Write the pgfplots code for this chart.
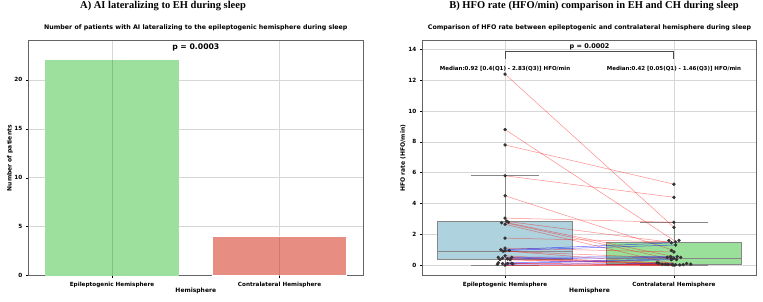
\documentclass[border=0pt]{standalone}
\usepackage{fontspec}
\setmainfont{DejaVu Sans}
\newfontfamily\timesfont{Liberation Serif}
\usepackage{pgfplots}
\pgfplotsset{compat=1.18}
\usepgfplotslibrary{statistics}

\definecolor{bargreen}{RGB}{157,224,157}
\definecolor{barred}{RGB}{232,141,130}
\definecolor{boxblue}{RGB}{174,210,222}
\definecolor{boxgreen}{RGB}{154,224,154}
\definecolor{gridgray}{RGB}{215,215,215}
\definecolor{framegray}{RGB}{100,100,100}
\definecolor{boxedge}{RGB}{135,135,135}
\definecolor{ptgray}{RGB}{50,50,50}

\pgfplotsset{
  mystyle/.style={
    scale only axis, anchor=south west, height=235pt,
    grid=major, major grid style={gridgray, line width=0.6pt},
    axis line style={framegray, line width=0.8pt},
    tick align=outside, major tick length=2.5pt,
    tick style={black, line width=0.5pt},
    xtick pos=bottom, ytick pos=left,
    ticklabel style={font=\bfseries\fontsize{5.7}{6.5}\selectfont},
    /pgf/number format/assume math mode=true,
    label style={font=\bfseries\fontsize{6}{7}\selectfont},
    title style={font=\bfseries\fontsize{6.3}{7.3}\selectfont, at={(axis description cs:0.5,1.028)}, anchor=center},
    xlabel style={at={(axis description cs:0.5,-0.065)}, anchor=center},
    xtick={0,1},
    xticklabels={Epileptogenic Hemisphere, Contralateral Hemisphere},
    xlabel={Hemisphere},
  },
  rline/.style={draw=red, line width=0.5pt, opacity=0.45, no marks},
  bline/.style={draw=blue, line width=0.5pt, opacity=0.6, no marks},
}

\begin{document}
\begin{tikzpicture}[x=1pt,y=1pt]
\path[use as bounding box] (0,0) rectangle (763,302);

\node[font=\timesfont\bfseries\fontsize{10.5}{12}\selectfont] at (163,296) {A) AI lateralizing to EH during sleep};
\node[font=\timesfont\bfseries\fontsize{10.5}{12}\selectfont] at (594,296) {B) HFO rate (HFO/min) comparison in EH and CH during sleep};

% ---------- Left panel ----------
\begin{axis}[mystyle, at={(28.3pt,26.3pt)}, width=335pt,
  xmin=-0.5, xmax=1.5, ymin=0, ymax=24,
  ytick={0,5,10,15,20},
  ylabel={Number of patients},
  ylabel style={at={(axis description cs:-0.055,0.5)}, anchor=center},
  title={Number of patients with AI lateralizing to the epileptogenic hemisphere during sleep},
]
\addplot[ybar, bar width=0.8, fill=bargreen, draw=none] coordinates {(0,22)};
\addplot[ybar, bar width=0.8, fill=barred, draw=white, line width=0.6pt] coordinates {(1,4)};
\draw[black!15!bargreen, line width=0.6pt] (axis cs:0,0) -- (axis cs:0,22);
\draw[black!12!barred, line width=0.6pt] (axis cs:1,0) -- (axis cs:1,4);
\node[font=\bfseries\fontsize{7.7}{9}\selectfont] at (axis cs:0.5,23.35) {p = 0.0003};
\end{axis}

% ---------- Right panel ----------
\begin{axis}[mystyle, at={(422.3pt,26.3pt)}, width=334.4pt,
  xmin=-0.49, xmax=1.49, ymin=-0.69, ymax=14.57,
  ytick={0,2,4,6,8,10,12,14},
  ylabel={HFO rate (HFO/min)},
  ylabel style={at={(axis description cs:-0.058,0.5)}, anchor=center},
  title={Comparison of HFO rate between epileptogenic and contralateral hemisphere during sleep},
  boxplot/draw direction=y,
  boxplot/every whisker/.style={draw=boxedge, line width=0.8pt},
  boxplot/every median/.style={draw=boxedge, line width=0.8pt},
  boxplot/every box/.style={draw=boxedge, line width=0.8pt},
]
\addplot[boxplot prepared={median=0.92, lower quartile=0.4, upper quartile=2.83,
  lower whisker=0, upper whisker=5.83, draw position=0, box extend=0.8, whisker extend=0.4},
  fill=boxblue, draw=boxedge, line width=0.8pt, solid] coordinates {};
\addplot[boxplot prepared={median=0.42, lower quartile=0.05, upper quartile=1.46,
  lower whisker=0, upper whisker=2.78, draw position=1, box extend=0.8, whisker extend=0.4},
  fill=boxgreen, draw=boxedge, line width=0.8pt, solid] coordinates {};

% paired lines (EH -> CH)
\addplot[rline] coordinates {(0,12.4) (1,2.45)};
\addplot[rline] coordinates {(0,8.8) (1,1.6)};
\addplot[rline] coordinates {(0,7.8) (1,5.25)};
\addplot[rline] coordinates {(0,5.8) (1,4.4)};
\addplot[rline] coordinates {(0,4.5) (1,0.95)};
\addplot[rline] coordinates {(0,3.05) (1,2.78)};
\addplot[rline] coordinates {(0,2.85) (1,1.45)};
\addplot[rline] coordinates {(0,2.78) (1,0.55)};
\addplot[rline] coordinates {(0,2.75) (1,0.35)};
\addplot[rline] coordinates {(0,2.65) (1,0.05)};
\addplot[rline] coordinates {(0,1.75) (1,1.5)};
\addplot[rline] coordinates {(0,1.1) (1,0.85)};
\addplot[bline] coordinates {(0,1.0) (1,1.45)};
\addplot[bline] coordinates {(0,0.95) (1,1.3)};
\addplot[rline] coordinates {(0,0.92) (1,0.05)};
\addplot[rline] coordinates {(0,0.9) (1,0.45)};
\addplot[rline] coordinates {(0,0.6) (1,0.04)};
\addplot[bline] coordinates {(0,0.5) (1,0.55)};
\addplot[rline] coordinates {(0,0.5) (1,0.05)};
\addplot[rline] coordinates {(0,0.45) (1,0.02)};
\addplot[bline] coordinates {(0,0.4) (1,0.5)};
\addplot[rline] coordinates {(0,0.35) (1,0.03)};
\addplot[rline] coordinates {(0,0.35) (1,0.15)};
\addplot[bline] coordinates {(0,0.15) (1,0.4)};
\addplot[rline] coordinates {(0,0.12) (1,0.02)};
\addplot[bline] coordinates {(0,0.1) (1,0.35)};
\addplot[rline] coordinates {(0,0.1) (1,0.01)};
\addplot[rline] coordinates {(0,0.08) (1,0.03)};
\addplot[bline] coordinates {(0,0.05) (1,0.1)};
\addplot[rline] coordinates {(0,0.0) (1,0.0)};

% EH points
\addplot[only marks, mark=*, mark size=1.5pt, ptgray] table {
x y
0 12.4
0 8.8
0 7.8
0 5.8
0 4.5
0 3.05
0.01 2.85
-0.02 2.75
0.02 2.78
0 2.65
0 1.75
0 1.1
-0.025 1.0
0.025 0.95
0 0.92
-0.012 0.9
0 0.6
-0.04 0.5
0.04 0.5
-0.015 0.45
0.015 0.4
-0.03 0.35
0.03 0.35
-0.04 0.15
0.04 0.12
-0.015 0.1
0.015 0.1
0.045 0.08
-0.045 0.05
0 0.0
};
% CH points
\addplot[only marks, mark=*, mark size=1.5pt, ptgray] table {
x y
1 5.25
1 4.4
1 2.78
1 2.45
0.97 1.6
1.03 1.6
1.01 1.5
0.985 1.45
1.01 1.3
0.985 0.95
1 0.85
1.02 0.55
0.98 0.55
1.04 0.5
0.96 0.5
1 0.45
0.985 0.4
1.015 0.35
0.985 0.35
0.9 0.15
1.075 0.1
1.1 0.06
0.91 0.12
0.93 0.05
0.95 0.04
0.965 0.03
0.99 0.02
1.01 0.02
1.035 0.01
1.055 0.03
1.0 0.0
};
\node[font=\bfseries\fontsize{5.5}{6.5}\selectfont] at (axis cs:0,12.73) {Median:0.92 [0.4(Q1) - 2.83(Q3)] HFO/min};
\node[font=\bfseries\fontsize{5.5}{6.5}\selectfont] at (axis cs:1,12.73) {Median:0.42 [0.05(Q1) - 1.46(Q3)] HFO/min};
\draw[black!70, line width=0.9pt] (axis cs:0,13.4) -- (axis cs:0,13.9) -- (axis cs:1,13.9) -- (axis cs:1,13.4);
\node[font=\bfseries\fontsize{6.5}{7.5}\selectfont] at (axis cs:0.5,14.18) {p = 0.0002};
\end{axis}
\end{tikzpicture}
\end{document}
